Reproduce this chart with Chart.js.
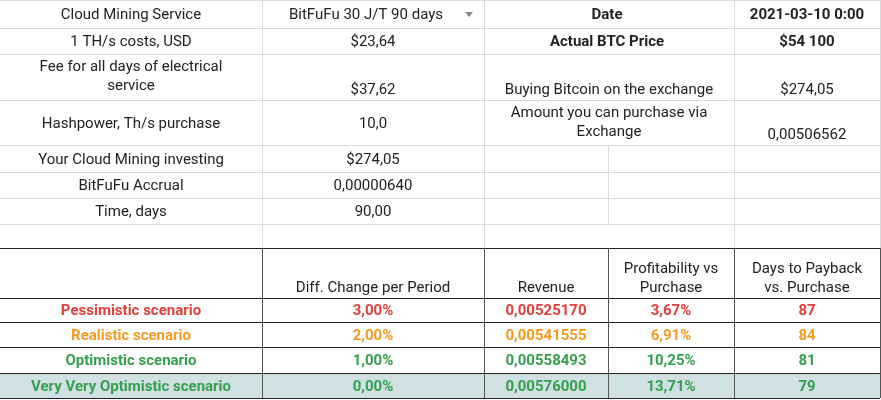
<!DOCTYPE html>
<html><head><meta charset="utf-8">
<script src="https://cdn.jsdelivr.net/npm/chart.js@4"></script>
<style>html,body{margin:0;padding:0;background:#fff}#w{width:881px;height:400px}</style>
</head><body><div id="w"><canvas id="c"></canvas></div>
<script>
const topLabels = ["Cloud Mining Service","1 TH/s costs, USD","Fee for all days of electrical\nservice","Hashpower, Th/s purchase","Your Cloud Mining investing","BitFuFu Accrual","Time, days"];
const topValues = ["BitFuFu 30 J/T 90 days","$23,64","$37,62","10,0","$274,05","0,00000640","90,00"];
const rightLabels = ["Date","Actual BTC Price","Buying Bitcoin on the exchange","Amount you can purchase via\nExchange"];
const rightValues = ["2021-03-10 0:00","$54 100","$274,05","0,00506562"];
const headers = ["","Diff. Change per Period","Revenue","Profitability vs\nPurchase","Days to Payback\nvs. Purchase"];
const scenarios = ["Pessimistic scenario","Realistic scenario","Optimistic scenario","Very Very Optimistic scenario"];
const diffChange = ["3,00%","2,00%","1,00%","0,00%"];
const revenue = ["0,00525170","0,00541555","0,00558493","0,00576000"];
const profitability = ["3,67%","6,91%","10,25%","13,71%"];
const payback = ["87","84","81","79"];
const scenarioColors = ["#e0403a","#f79a1e","#34a04e","#34a04e"];

const X=[0,262,484,608,734,880];
const TY=[0,28,54,100,145,172,198,224,248];
const BY=[248,298,322,347,373,398];
const F='Roboto, "Open Sans", sans-serif';

function txt(ctx,s,cx,y0,y1,opt){
  opt=opt||{};
  ctx.font=(opt.bold?'bold ':'')+'15px '+F;
  ctx.fillStyle=opt.color||'#222';
  ctx.textAlign=opt.align||'center';ctx.textBaseline='alphabetic';
  const lines=s.split('\n');const lh=19;
  let base;
  if(opt.valign==='bottom') base=y1-6-(lines.length-1)*lh;
  else if(opt.valign==='top') base=y0+17;
  else base=(y0+y1)/2+5-(lines.length-1)*lh/2;
  lines.forEach((l,i)=>ctx.fillText(l,cx,base+i*lh));
}
const tablePlugin={id:'tbl',afterDraw(chart){
  const ctx=chart.ctx;ctx.save();
  ctx.fillStyle='#fff';ctx.fillRect(0,0,881,400);
  // teal last row
  ctx.fillStyle='#d0e0e3';ctx.fillRect(0,BY[4],880,BY[5]-BY[4]);
  // top grid
  ctx.strokeStyle='#dadada';ctx.lineWidth=1;
  TY.forEach(y=>{ctx.beginPath();ctx.moveTo(0,y+.5);ctx.lineTo(880,y+.5);ctx.stroke();});
  [X[1],X[2],X[4],X[5]].forEach(x=>{ctx.beginPath();ctx.moveTo(x+.5,0);ctx.lineTo(x+.5,248);ctx.stroke();});
  ctx.beginPath();ctx.moveTo(X[3]+.5,TY[4]);ctx.lineTo(X[3]+.5,TY[7]);ctx.stroke();
  // bottom grid
  ctx.strokeStyle='#222';
  BY.forEach(y=>{ctx.beginPath();ctx.moveTo(0,y+.5);ctx.lineTo(880,y+.5);ctx.stroke();});
  ctx.strokeStyle='#555';
  X.slice(1).forEach(x=>{ctx.beginPath();ctx.moveTo(x+.5,BY[0]);ctx.lineTo(x+.5,BY[5]);ctx.stroke();});
  // top text
  for(let i=0;i<topLabels.length;i++){
    const y0=TY[i],y1=TY[i+1];
    txt(ctx,topLabels[i],131,y0,y1,{valign:i===2?'top':'mid'});
    txt(ctx,topValues[i],(i===0?366:373),y0,y1,{valign:i===2?'bottom':'mid'});
  }
  // dropdown arrow
  ctx.fillStyle='#888';ctx.beginPath();ctx.moveTo(465,12);ctx.lineTo(473,12);ctx.lineTo(469,17);ctx.fill();
  txt(ctx,rightLabels[0],607,TY[0],TY[1],{bold:1});
  txt(ctx,rightValues[0],807,TY[0],TY[1],{bold:1});
  txt(ctx,rightLabels[1],607,TY[1],TY[2],{bold:1});
  txt(ctx,rightValues[1],807,TY[1],TY[2],{bold:1});
  txt(ctx,rightLabels[2],609,TY[2],TY[3],{valign:'bottom'});
  txt(ctx,rightValues[2],807,TY[2],TY[3],{valign:'bottom'});
  txt(ctx,rightLabels[3],609,TY[3],TY[4],{valign:'top'});
  txt(ctx,rightValues[3],807,TY[3],TY[4],{valign:'bottom'});
  // bottom headers
  for(let c=0;c<5;c++) txt(ctx,headers[c],(X[c]+X[c+1])/2,BY[0],BY[1],{valign:'bottom'});
  for(let r=0;r<4;r++){
    const y0=BY[r+1],y1=BY[r+2],o={bold:1,color:scenarioColors[r]};
    txt(ctx,scenarios[r],131,y0,y1,o);
    txt(ctx,diffChange[r],373,y0,y1,o);
    txt(ctx,revenue[r],546,y0,y1,o);
    txt(ctx,profitability[r],671,y0,y1,o);
    txt(ctx,payback[r],807,y0,y1,o);
  }
  ctx.restore();
}};
new Chart(document.getElementById('c'),{type:'bar',
  data:{labels:scenarios,datasets:[{data:[0,0,0,0]}]},
  options:{responsive:true,maintainAspectRatio:false,animation:false,
    plugins:{legend:{display:false},tooltip:{enabled:false}},
    scales:{x:{display:false},y:{display:false}}},
  plugins:[tablePlugin]});
</script></body></html>
